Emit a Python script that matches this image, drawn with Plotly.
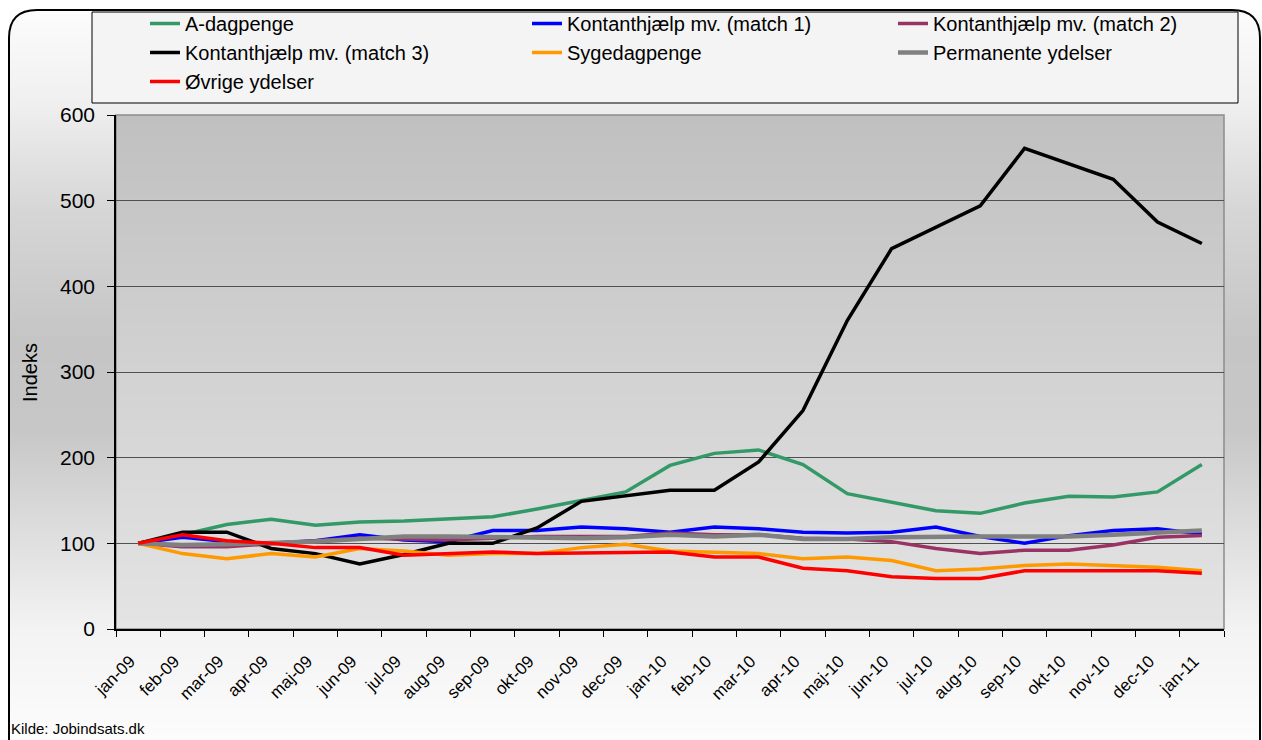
import base64, struct, zlib
import plotly.graph_objects as go

months = ["jan-09", "feb-09", "mar-09", "apr-09", "maj-09", "jun-09", "jul-09", "aug-09",
          "sep-09", "okt-09", "nov-09", "dec-09", "jan-10", "feb-10", "mar-10", "apr-10",
          "maj-10", "jun-10", "jul-10", "aug-10", "sep-10", "okt-10", "nov-10", "dec-10", "jan-11"]

a_dagpenge = [100, 110, 122, 128, 121, 125, 126, 129, 131, 140, 150, 160, 191, 205, 209, 192,
              158, 148, 138, 135, 147, 155, 154, 160, 192]
kontant_m1 = [100, 107, 102, 100, 103, 110, 104, 102, 115, 115, 119, 117, 113, 119, 117, 113,
              112, 113, 119, 108, 100, 109, 115, 117, 111]
kontant_m2 = [100, 96, 96, 100, 103, 106, 105, 104, 106, 108, 108, 108, 112, 110, 110, 106,
              105, 102, 94, 88, 92, 92, 98, 107, 109]
kontant_m3 = [100, 113, 113, 94, 88, 76, 87, 100, 100, 118, 149, 156, 162, 162, 195, 255,
              360, 444, 469, 494, 561, 543, 525, 475, 450]
sygedagpenge = [100, 88, 82, 88, 84, 94, 91, 86, 88, 88, 95, 99, 91, 90, 88, 82,
                84, 80, 68, 70, 74, 76, 74, 72, 68]
permanente = [100, 98, 99, 100, 102, 105, 108, 108, 107, 106, 106, 107, 110, 108, 110, 105,
              105, 107, 108, 108, 108, 108, 110, 112, 115]
oevrige = [100, 110, 103, 100, 95, 95, 86, 88, 90, 88, 89, 89, 90, 84, 84, 71,
           68, 61, 59, 59, 68, 68, 68, 68, 65]

y_ticks = [0, 100, 200, 300, 400, 500, 600]

series = [
    ("A-dagpenge", a_dagpenge, "#339966", 3.5, "legend"),
    ("Kontanthjælp mv. (match 1)", kontant_m1, "#0000FF", 3.5, "legend2"),
    ("Kontanthjælp mv. (match 2)", kontant_m2, "#993366", 3.5, "legend3"),
    ("Kontanthjælp mv. (match 3)", kontant_m3, "#000000", 3.5, "legend"),
    ("Sygedagpenge", sygedagpenge, "#FF9900", 3.5, "legend2"),
    ("Permanente ydelser", permanente, "#808080", 4.5, "legend3"),
    ("Øvrige ydelser", oevrige, "#FF0000", 3.5, "legend"),
]

W, H = 1262, 740
L, R, T, B = 116, 1224, 115, 629


def px(p):
    return (p - L) / (R - L)


def py(q):
    return (B - q) / (B - T)


def gradient_png(stops, h):
    rows = []
    for i in range(h):
        y = i
        for (y0, g0), (y1, g1) in zip(stops[:-1], stops[1:]):
            if y0 <= y <= y1:
                t = (y - y0) / (y1 - y0) if y1 > y0 else 0
                g = round(g0 + (g1 - g0) * t)
                break
        else:
            g = stops[-1][1] if y > stops[-1][0] else stops[0][1]
        rows.append(b"\x00" + bytes([g]))
    raw = b"".join(rows)

    def chunk(t, d):
        return struct.pack(">I", len(d)) + t + d + struct.pack(">I", zlib.crc32(t + d) & 0xffffffff)

    png = (b"\x89PNG\r\n\x1a\n" + chunk(b"IHDR", struct.pack(">IIBBBBB", 1, h, 8, 0, 0, 0, 0))
           + chunk(b"IDAT", zlib.compress(raw)) + chunk(b"IEND", b""))
    return "data:image/png;base64," + base64.b64encode(png).decode()


paper_grad = gradient_png([(0, 252), (90, 240), (200, 214), (330, 197), (420, 199),
                           (520, 221), (620, 243), (730, 252)], 730)
plot_grad = gradient_png([(0, 192), (514, 228)], 514)

fig = go.Figure()
for name, vals, color, w, lg in series:
    fig.add_trace(go.Scatter(x=months, y=vals, name=name, mode="lines",
                             line=dict(color=color, width=w), legend=lg))

font = "Liberation Sans, Arial, sans-serif"

leg_common = dict(yanchor="top", xanchor="left", bgcolor="rgba(0,0,0,0)", borderwidth=0,
                  font=dict(family=font, size=20, color="black"), tracegroupgap=0,
                  orientation="v")

fig.update_layout(
    width=W, height=H,
    margin=dict(l=L, r=W - R, t=T, b=H - B, pad=0, autoexpand=False),
    paper_bgcolor="white",
    plot_bgcolor="rgba(0,0,0,0)",
    font=dict(family=font, color="black"),
    legend=dict(x=px(145), y=py(4), **leg_common),
    legend2=dict(x=px(527), y=py(4), **leg_common),
    legend3=dict(x=px(893), y=py(4), **leg_common),
    xaxis=dict(type="category", range=[-0.5, len(months) - 0.5], tickson="boundaries",
               ticks="outside", ticklen=6, tickcolor="black", showline=True, linecolor="black",
               linewidth=1.5, showgrid=False, tickangle=-45, ticklabelstandoff=14,
               ticklabelshift=-8,
               tickfont=dict(family=font, size=17, color="black")),
    yaxis=dict(range=[0, 600], tickvals=y_ticks, ticks="outside", ticklen=7, tickcolor="black",
               showline=True, linecolor="black", linewidth=1.5, showgrid=True,
               gridcolor="#505050", gridwidth=1, zeroline=False, ticklabelstandoff=8,
               tickfont=dict(family=font, size=21, color="black")),
    images=[
        dict(source=paper_grad, xref="paper", yref="paper", x=px(9), y=py(10),
             sizex=px(W) - px(9), sizey=py(10) - py(H), sizing="stretch",
             xanchor="left", yanchor="top", layer="below"),
        dict(source=plot_grad, xref="paper", yref="paper", x=0, y=1, sizex=1, sizey=1,
             sizing="stretch", xanchor="left", yanchor="top", layer="below"),
    ],
    shapes=[
        # rounded chart-area border
        dict(type="path", xref="paper", yref="paper", layer="below",
             path=(f"M {px(9)},{py(745)} L {px(9)},{py(38)} Q {px(9)},{py(10)} {px(37)},{py(10)} "
                   f"L {px(1232)},{py(10)} Q {px(1260)},{py(10)} {px(1260)},{py(38)} L {px(1260)},{py(745)}"),
             line=dict(color="black", width=2)),
        # legend box
        dict(type="rect", xref="paper", yref="paper", layer="below",
             x0=px(92), x1=px(1238), y0=py(103), y1=py(12),
             fillcolor="#f4f4f4", line=dict(color="black", width=1)),
        # plot-area frame
        dict(type="rect", xref="paper", yref="paper", layer="below",
             x0=0, x1=1, y0=0, y1=1, line=dict(color="#8c8c8c", width=1.5)),
    ],
    annotations=[
        dict(text="Indeks", xref="paper", yref="paper", x=px(30), y=0.5, textangle=-90,
             showarrow=False, xanchor="center", yanchor="middle",
             font=dict(family=font, size=20, color="black")),
        dict(text="Kilde: Jobindsats.dk", xref="paper", yref="paper", x=px(9), y=py(728),
             showarrow=False, xanchor="left", yanchor="middle",
             font=dict(family=font, size=15, color="black")),
    ],
)

fig.write_html("out.html", config={"displayModeBar": False},
               post_script="document.body.style.margin='0';document.body.style.padding='0';")
